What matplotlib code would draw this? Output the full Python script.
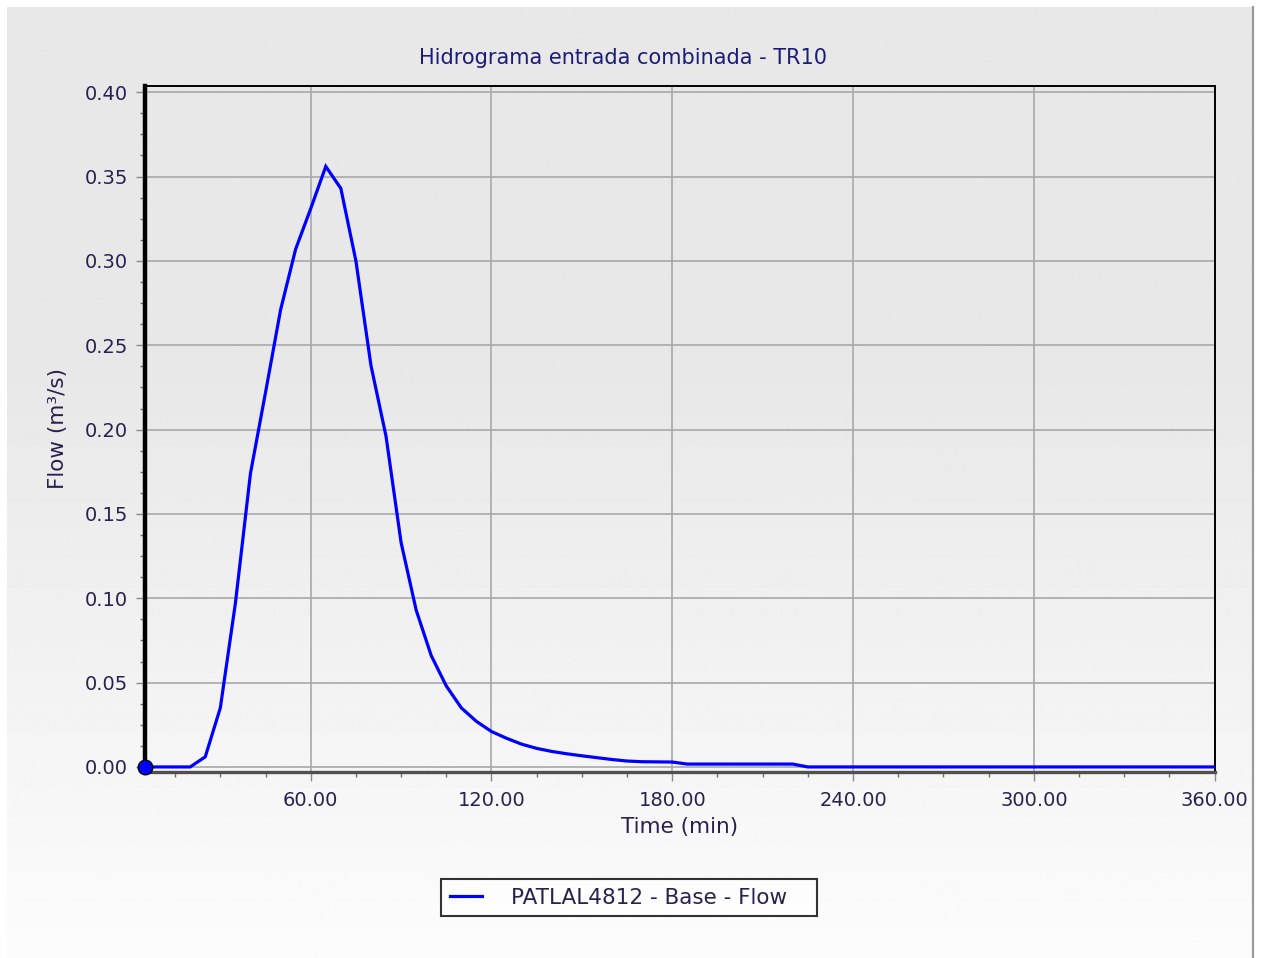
import numpy as np
import matplotlib
matplotlib.use("Agg")
import matplotlib.pyplot as plt
from matplotlib.ticker import MultipleLocator, FormatStrFormatter

# Combined inflow hydrograph, 5-minute time step
time_min = [5, 10, 15, 20, 25, 30, 35, 40, 45, 50, 55, 60, 65, 70, 75, 80, 85, 90,
            95, 100, 105, 110, 115, 120, 125, 130, 135, 140, 145, 150, 155, 160,
            165, 170, 175, 180, 185, 190, 195, 200, 205, 210, 215, 220, 225, 230,
            235, 240, 245, 250, 255, 260, 265, 270, 275, 280, 285, 290, 295, 300,
            305, 310, 315, 320, 325, 330, 335, 340, 345, 350, 355, 360]
flow_m3s = [0.000, 0.000, 0.000, 0.000, 0.006, 0.035, 0.097, 0.174, 0.222, 0.271,
            0.307, 0.331, 0.356, 0.343, 0.300, 0.238, 0.196, 0.133, 0.093, 0.066,
            0.048, 0.035, 0.027, 0.021, 0.017, 0.0135, 0.011, 0.0092, 0.0078,
            0.0066, 0.0055, 0.0044, 0.0035, 0.0031, 0.0030, 0.0029, 0.0017, 0.0017,
            0.0017, 0.0017, 0.0017, 0.0017, 0.0017, 0.0017, 0.0, 0.0, 0.0, 0.0,
            0.0, 0.0, 0.0, 0.0, 0.0, 0.0, 0.0, 0.0, 0.0, 0.0, 0.0, 0.0, 0.0, 0.0,
            0.0, 0.0, 0.0, 0.0, 0.0, 0.0, 0.0, 0.0, 0.0, 0.0]

title_text = "Hidrograma entrada combinada - TR10"
series_name = "PATLAL4812 - Base - Flow"
x_label = "Time (min)"
y_label = "Flow (m³/s)"

W, H = 1267, 958
fig = plt.figure(figsize=(W / 100, H / 100), dpi=100, facecolor="white")

# Panel background: flat light grey fading to near white toward the bottom
bg = fig.add_axes([0, 0, 1, 1], zorder=-10)
bg.set_xlim(0, W)
bg.set_ylim(H, 0)
bg.axis("off")
rows = np.arange(H)
shade = np.where(rows < 380, 0xE8, 0xE8 + (rows - 380) / (H - 380) * (0xFC - 0xE8)) / 255.0
grad = np.repeat(shade[:, None], 2, axis=1)
bg.imshow(grad, cmap="gray", vmin=0, vmax=1, extent=(7, 1252, H, 7),
          aspect="auto", interpolation="bilinear")
bg.plot([1252.5, 1252.5], [7, H], color="#9a9a9a", lw=1.6)

text_col = "#2a2050"

ax = fig.add_axes([145 / W, 1 - 772 / H, (1214.6 - 145) / W, (772 - 85.5) / H])
ax.set_facecolor("none")
ax.set_xlim(5, 360)
ax.set_ylim(-0.003, 0.404)

ax.xaxis.set_major_locator(MultipleLocator(60))
ax.xaxis.set_minor_locator(MultipleLocator(15))
ax.yaxis.set_major_locator(MultipleLocator(0.05))
ax.yaxis.set_minor_locator(MultipleLocator(0.0125))
ax.xaxis.set_major_formatter(FormatStrFormatter("%.2f"))
ax.yaxis.set_major_formatter(FormatStrFormatter("%.2f"))

ax.grid(True, which="major", color="#a8a8a8", lw=1.2)
ax.set_axisbelow(True)

ax.tick_params(axis="both", which="major", direction="out", length=6.5, width=1.0,
               color="#8a8a8a", labelsize=14, labelcolor=text_col)
ax.tick_params(axis="both", which="minor", direction="out", length=3.5, width=1.0,
               color="#707070")
ax.tick_params(axis="x", which="major", pad=7)
ax.tick_params(axis="y", which="major", pad=6)

for side in ("top", "right"):
    ax.spines[side].set_color("black")
    ax.spines[side].set_linewidth(1.4)
ax.spines["left"].set_color("black")
ax.spines["left"].set_linewidth(3.2)
ax.spines["bottom"].set_color("#505050")
ax.spines["bottom"].set_linewidth(2.4)

line, = ax.plot(time_min, flow_m3s, color="#0000ff", lw=2.3, label=series_name,
                solid_joinstyle="miter", zorder=3)
ax.plot(time_min[0], flow_m3s[0], "o", color="#0000ff", mec="black", mew=1.0,
        ms=10.5, clip_on=False, zorder=5)

ax.set_xlabel(x_label, fontsize=15.5, color=text_col, labelpad=5)
ax.set_ylabel(y_label, fontsize=15.5, color=text_col, labelpad=12)

fig.text(623 / W, 1 - 58 / H, title_text, fontsize=15, color="#1c1c78",
         ha="center", va="center")

leg_h = 39
leg = fig.legend(handles=[line], loc="center", mode="expand",
                 bbox_to_anchor=(441 / W, 1 - 917 / H, 376 / W, leg_h / H),
                 fontsize=15.5, frameon=True, fancybox=False, handlelength=1.5,
                 handletextpad=1.35, borderpad=0.4, borderaxespad=0.0,
                 labelcolor=text_col)
leg.get_frame().set_edgecolor("black")
leg.get_frame().set_linewidth(1.5)
leg.get_frame().set_facecolor("white")

fig.savefig("out.png", dpi=100, facecolor="white")
